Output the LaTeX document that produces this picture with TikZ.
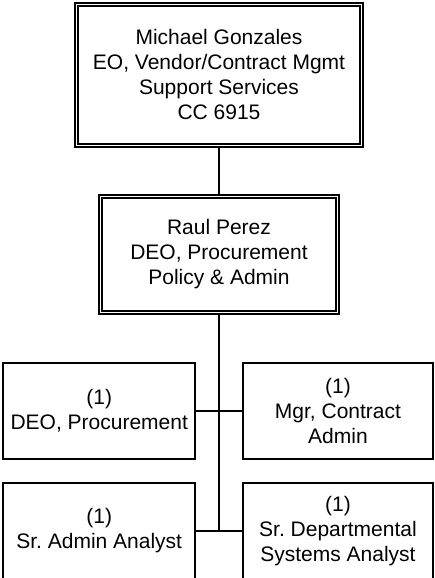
\documentclass[tikz,border=0pt]{standalone}
\usepackage{fontspec}
\setmainfont{Liberation Sans}
\frenchspacing
\begin{document}
\begin{tikzpicture}[x=1pt,y=-1pt,
  txt/.style={align=center,inner sep=0pt,font=\fontsize{21}{25}\selectfont},
  boxone/.style={txt,draw,line width=2pt},
  boxtwo/.style={txt,draw,line width=2pt},
  conn/.style={line width=2pt}]
\useasboundingbox (0,0) rectangle (435,578);
\clip (0,0) rectangle (435,578);
\node[boxtwo,minimum width=288pt,minimum height=144pt] (top) at (219,74.9)
  {Michael Gonzales\\EO, Vendor/Contract Mgmt\\Support Services\\CC 6915};
\draw[line width=1.3pt] ([xshift=4pt,yshift=-4pt]top.north west) rectangle ([xshift=-4pt,yshift=4pt]top.south east);
\node[boxtwo,minimum width=240pt,minimum height=119pt] (raul) at (219,254.5)
  {Raul Perez\\DEO, Procurement\\Policy \& Admin};
\draw[line width=1.3pt] ([xshift=4pt,yshift=-4pt]raul.north west) rectangle ([xshift=-4pt,yshift=4pt]raul.south east);
\node[boxone,minimum width=191.7pt,minimum height=96pt] (r1l) at (99.2,411) {(1)\\DEO, Procurement};
\node[boxone,minimum width=190pt,minimum height=96pt] (r1r) at (338,411) {(1)\\Mgr, Contract\\Admin};
\node[boxone,minimum width=191.7pt,minimum height=96pt] (r2l) at (99.2,531) {(1)\\Sr.\ Admin Analyst};
\node[boxone,minimum width=190pt,minimum height=96pt] (r2r) at (338,531) {(1)\\Sr.\ Departmental\\Systems Analyst};
\draw[conn] (top.south) -- (raul.north);
\draw[conn] (raul.south) -- (raul.south |- r2l.east);
\draw[conn] (r1l.east) -- (r1r.west);
\draw[conn] (r2l.east) -- (r2r.west);
\end{tikzpicture}
\end{document}
